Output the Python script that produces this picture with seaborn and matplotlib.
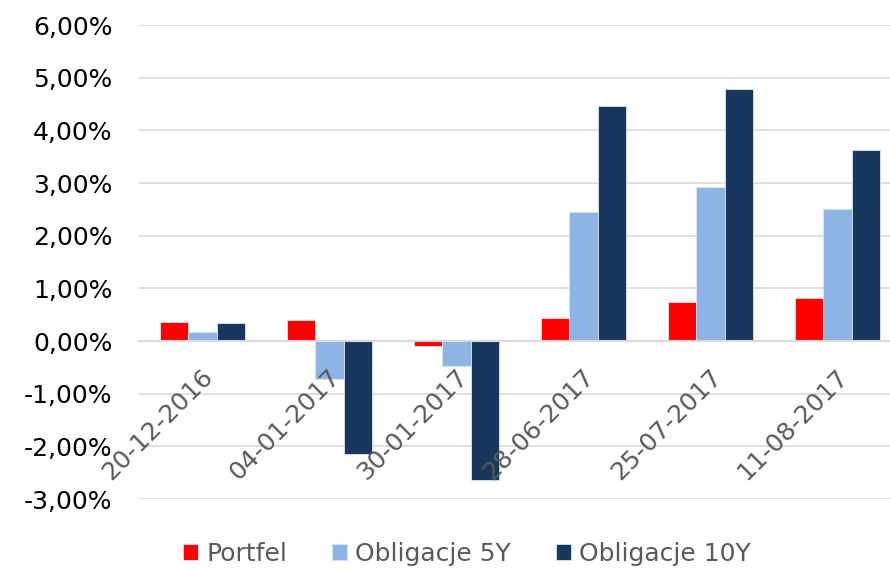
import pandas as pd
import numpy as np
import matplotlib.pyplot as plt
import matplotlib.transforms as mtransforms
import seaborn as sns

# dane
daty = ['20-12-2016', '04-01-2017', '30-01-2017', '28-06-2017', '25-07-2017', '11-08-2017']
portfel = [0.36, 0.40, -0.09, 0.43, 0.75, 0.82]
oblig_5y = [0.17, -0.73, -0.47, 2.45, 2.93, 2.51]
oblig_10y = [0.35, -2.14, -2.63, 4.47, 4.78, 3.62]
serie = ['Portfel', 'Obligacje 5Y', 'Obligacje 10Y']
kolory = ['#FF0000', '#8EB4E3', '#17375E']

df = pd.DataFrame({'Data': daty, serie[0]: portfel, serie[1]: oblig_5y, serie[2]: oblig_10y})
df = df.melt(id_vars='Data', var_name='Seria', value_name='Zwrot')

sns.set_style('white')
plt.rcParams['font.family'] = ['DejaVu Sans']

fig = plt.figure(figsize=(8.9, 5.69), dpi=100)
ax = fig.add_axes([139/890, 1-499/569, 762/890, 474/569])

sns.barplot(data=df, x='Data', y='Zwrot', hue='Seria', palette=kolory, saturation=1,
            width=0.67, edgecolor='#dce6f2', linewidth=0.6, ax=ax)

ax.set_ylim(-3, 6)
ax.set_xlim(-0.5, 5.5)
yt = np.arange(-3, 7, 1)
ax.set_yticks(yt)
ax.set_yticklabels([f'{v:.2f}%'.replace('.', ',') for v in yt], fontsize=18, color='black')
ax.yaxis.grid(True, color='#d9d9d9', linewidth=1.2)
ax.set_axisbelow(True)
ax.tick_params(axis='y', length=0, pad=19)

for s in ['top', 'right', 'left']:
    ax.spines[s].set_visible(False)
ax.spines['bottom'].set_position(('data', 0))
ax.spines['bottom'].set_color('#d9d9d9')
ax.spines['bottom'].set_linewidth(1.5)

# etykiety osi x jako tekst nad slupkami
ax.set_xticks(range(len(daty)))
ax.set_xticklabels([])
ax.set_xticks(np.arange(-0.5, 6, 1), minor=True)
ax.tick_params(axis='x', which='major', length=0)
ax.tick_params(axis='x', which='minor', length=7, width=1.5, color='#d9d9d9', direction='out')
trans = mtransforms.offset_copy(ax.transData, fig=fig, x=-1, y=-17, units='points')
for i, d in enumerate(daty):
    ax.text(i, 0, d, transform=trans, rotation=45, ha='right', va='top',
            rotation_mode='anchor', fontsize=18, color='#595959', zorder=10)
ax.set_xlabel('')
ax.set_ylabel('')

ax.legend(loc='center', bbox_to_anchor=(467/890, 15/569), bbox_transform=fig.transFigure,
          ncol=3, frameon=False, fontsize=18, handlelength=0.6, handleheight=0.6,
          handletextpad=0.32, columnspacing=1.8, labelcolor='#595959')

fig.savefig('out.png', dpi=100)
